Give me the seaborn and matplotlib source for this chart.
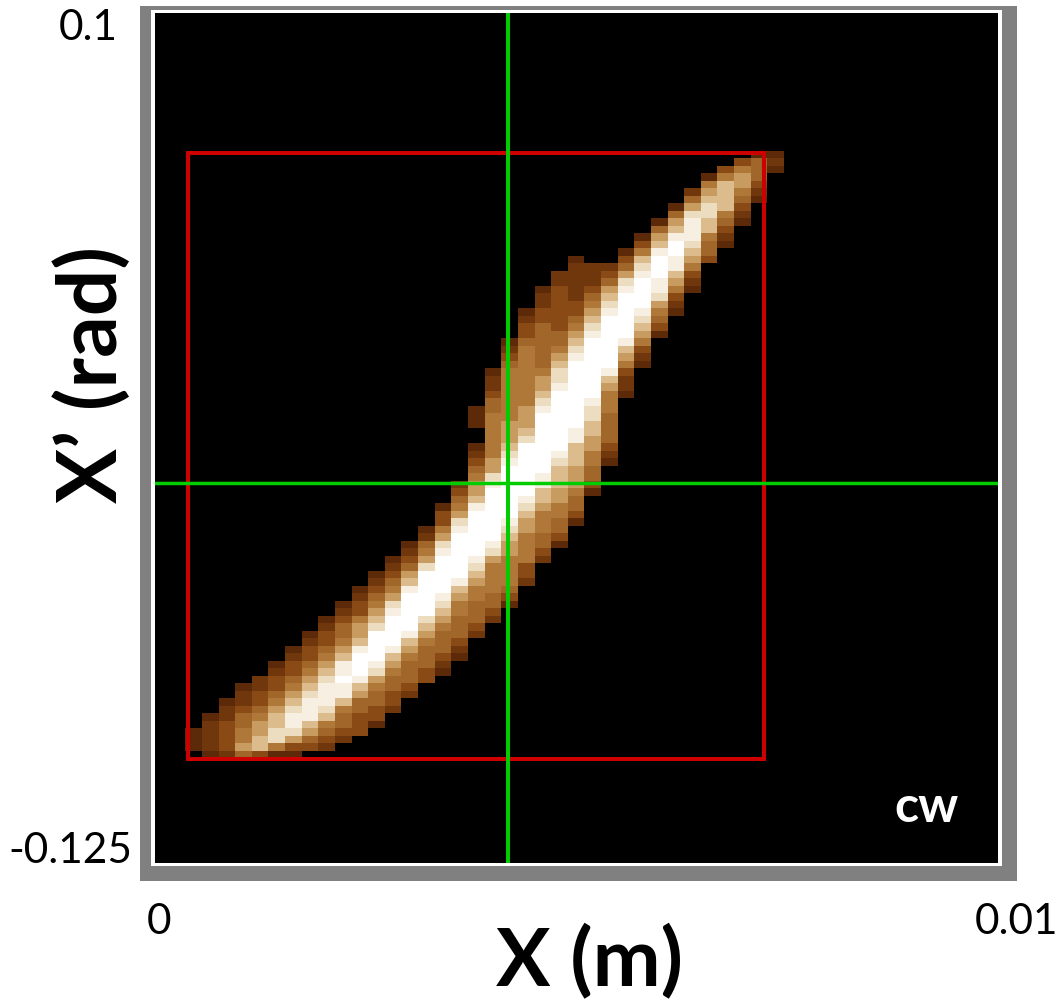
import numpy as np
import matplotlib
matplotlib.use("Agg")
import matplotlib.pyplot as plt
from matplotlib.colors import ListedColormap
from matplotlib.patches import Rectangle
import seaborn as sns

# phase space image, 51 x bins and 115 x' bins, brightness read as levels 0-10 (a = 10)
n_cols = 51
n_rows = 115
first_row = 19
row_start = [36, 35, 34, 33, 33, 32, 32, 31, 31, 30, 30, 29, 29, 28, 25, 25, 24, 24, 23, 23, 23,
             22, 22, 22, 22, 21, 21, 21, 21, 20, 20, 20, 20, 20, 19, 19, 19, 20, 20, 19, 19, 19,
             19, 19, 18, 18, 18, 17, 17, 17, 16, 16, 15, 15, 14, 14, 13, 13, 12, 12, 11, 11, 10,
             10, 9, 9, 8, 8, 7, 7, 6, 5, 5, 4, 4, 3, 3, 2, 2, 2, 3]
row_levels = ["11", "342", "3541", "1564", "5763", "26752", "47741", "16873", "48852", "169741",
              "47973", "169952", "37a841", "159a74", "10037a963", "22248a95", "222369a73",
              "22248a962", "132369a951", "23247aa83", "23358aa62", "133369a951", "23347aa84",
              "34358aa73", "34469aa61", "14447aa95", "25458aa73", "35469aa62", "4547aaa51",
              "15558aa93", "25568aa72", "25569aa62", "3557aaa51", "4558aa95", "14569aa85",
              "1556aaa84", "1566aaa74", "567aa974", "568aa964", "157aaa763", "258aa9752",
              "369aa8751", "46aaa764", "58aa9764", "269aa9763", "36aaa7651", "47aa9764",
              "159aa8654", "36aaa7553", "38aa96541", "159aa8654", "26aaa7543", "148aa96541",
              "259aa8653", "136aa96552", "248aa8553", "136aaa7553", "247aa96552", "1359aa7554",
              "246aa96543", "1358aa85441", "2369aa7543", "1357aa86442", "2468aa7543",
              "1346aa96442", "2357aa7543", "13469a96442", "2357aa75431", "13469a96442",
              "23579a85431", "23468a96443", "12357997543", "23468996432", "12357997443",
              "23468985432", "12457997433", "23467975431", "12356886433", "1235786432",
              "123675332", "124311"]
level_colors = ["#000000", "#5c2a08", "#70360c", "#8a4a15", "#a0662a", "#b07838",
                "#c89c60", "#dcbc8c", "#ecdcc0", "#f6efe2", "#ffffff"]

# physical units
x_range = [0, 0.01]
y_range = [-0.125, 0.1]
box_x = [0.00039, 0.00722]
box_y = [-0.0976, 0.0629]
center_x = 0.00419
center_y = -0.0245

image = np.zeros((n_rows, n_cols))
for i, (start, levels) in enumerate(zip(row_start, row_levels)):
    for j, c in enumerate(levels):
        image[first_row + i, start + j] = int(c, 16)

W, H = 1059, 1000
fig = plt.figure(figsize=(W / 100, H / 100), dpi=100, facecolor="white")
plt.rcParams["font.family"] = ["Lato", "DejaVu Sans"]


def frame(left, top, right, bottom, color):
    fig.add_artist(Rectangle((left / W, 1 - bottom / H), (right - left) / W, (bottom - top) / H,
                             transform=fig.transFigure, color=color, lw=0, zorder=0))


frame(140, 6, 1017, 881, "#808080")
frame(151, 10, 1002, 866, "white")

ax = fig.add_axes([155 / W, 1 - 863 / H, 843 / W, 850 / H], zorder=2)
ax.set_facecolor("black")
sns.heatmap(image, cmap=ListedColormap(level_colors), vmin=-0.5, vmax=10.5, cbar=False,
            xticklabels=False, yticklabels=False, ax=ax)

# image grid starts a little outside the black area
col_lo, col_hi = 0.18, 50.87
row_top, row_bot = 0.64, 113.97
ax.set_xlim(col_lo, col_hi)
ax.set_ylim(row_bot, row_top)


def to_col(x):
    return col_lo + (x - x_range[0]) / (x_range[1] - x_range[0]) * (col_hi - col_lo)


def to_row(y):
    return row_top + (y_range[1] - y) / (y_range[1] - y_range[0]) * (row_bot - row_top)


# red box + green centre lines
bx0, bx1 = to_col(box_x[0]), to_col(box_x[1])
by0, by1 = to_row(box_y[0]), to_row(box_y[1])
ax.plot([bx0, bx1, bx1, bx0, bx0], [by0, by0, by1, by1, by0], color="#cc0000", lw=2.9,
        solid_joinstyle="miter")
ax.axvline(to_col(center_x), color="#00cc00", lw=2.9)
ax.axhline(to_row(center_y), color="#00cc00", lw=2.5)
for s in ax.spines.values():
    s.set_visible(False)

fig.text(927 / W, 1 - 808 / H, "cw", color="white", fontsize=36, fontweight="bold",
         ha="center", va="center", zorder=5)

# tick labels sit outside the grey frame
fig.text(118 / W, 1 - 28 / H, "0.1", fontsize=30.5, ha="right", va="center")
fig.text(132 / W, 1 - 851 / H, "-0.125", fontsize=30.5, ha="right", va="center")
fig.text(159 / W, 1 - 922 / H, "0", fontsize=30.5, ha="center", va="center")
fig.text(1016 / W, 1 - 922 / H, "0.01", fontsize=30.5, ha="center", va="center")
fig.text(589 / W, 1 - 962 / H, "X (m)", fontsize=58.5, fontweight="bold", ha="center", va="center")
fig.text(92 / W, 1 - 375 / H, "X\u2019 (rad)", fontsize=59, fontweight="bold", rotation=90,
         ha="center", va="center")

fig.savefig("out.png", dpi=100, facecolor="white")
